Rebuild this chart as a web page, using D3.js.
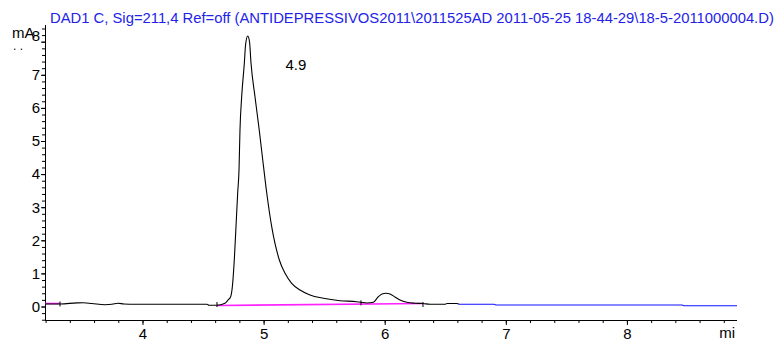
<!DOCTYPE html>
<html>
<head>
<meta charset="utf-8">
<script src="https://cdn.jsdelivr.net/npm/d3@7"></script>
<style>
  body { margin: 0; background: #fff; }
  text { font-family: "Liberation Sans", Arial, sans-serif; }
</style>
</head>
<body>
<div id="chart"></div>
<script>
// chromatogram trace (time in min, signal in mA)
var traceBlack = [
  [3.195, 0.076], [3.319, 0.076], [3.459, 0.110], [3.509, 0.115], [3.583, 0.091],
  [3.690, 0.054], [3.748, 0.066], [3.798, 0.100], [3.847, 0.076], [3.938, 0.066],
  [4.533, 0.066], [4.549, 0.039], [4.615, 0.039], [4.681, 0.097], [4.706, 0.196],
  [4.728, 0.296], [4.742, 0.598], [4.758, 1.405], [4.772, 2.411], [4.786, 3.429],
  [4.797, 4.124], [4.805, 5.332], [4.819, 6.338], [4.841, 7.356], [4.851, 7.900],
  [4.869, 8.172], [4.884, 7.991], [4.896, 7.356], [4.929, 6.338], [4.964, 5.332],
  [4.993, 4.426], [5.026, 3.429], [5.067, 2.411], [5.130, 1.405], [5.177, 1.003],
  [5.232, 0.701], [5.301, 0.498], [5.383, 0.347], [5.493, 0.248], [5.631, 0.175],
  [5.769, 0.145], [5.804, 0.127], [5.854, 0.106], [5.906, 0.127], [5.945, 0.287],
  [5.978, 0.378], [6.011, 0.399], [6.044, 0.378], [6.085, 0.287], [6.126, 0.196],
  [6.182, 0.127], [6.250, 0.100], [6.316, 0.091], [6.374, 0.066], [6.498, 0.066],
  [6.514, 0.091], [6.597, 0.091], [6.614, 0.066]
];
var traceBlue = [
  [6.614, 0.066], [6.903, 0.066], [6.919, 0.045], [8.455, 0.045], [8.472, 0.021], [8.909, 0.021]
];
// integration baselines and event marks
var baselines = [
  [[3.195, 0.091], [3.319, 0.091]],
  [[4.615, 0.030], [6.316, 0.091]]
];
var eventMarks = [[3.319, 0.076], [4.615, 0.060], [5.804, 0.110], [6.316, 0.060]];
var peakLabel = { text: "4.9", t: 5.267, v: 7.14 };

var xMajor = [4, 5, 6, 7, 8];
var xMinor = d3.range(3.2, 8.91, 0.2);
var yMajor = [0, 1, 2, 3, 4, 5, 6, 7, 8];
var yMinor = d3.range(-0.4, 8.41, 0.2);
var title = "DAD1 C, Sig=211,4 Ref=off (ANTIDEPRESSIVOS2011\\2011525AD 2011-05-25 18-44-29\\18-5-2011000004.D)";

var W = 777, H = 341;
var svg = d3.select("#chart").append("svg").attr("width", W).attr("height", H);

var x = d3.scaleLinear().domain([3.195, 8.909]).range([45, 737]);
var y = d3.scaleLinear().domain([0, 7]).range([306.5, 74.8]);
var yTop = 25, yBottom = 320;

// title
svg.append("text")
  .attr("x", 50).attr("y", 23)
  .attr("fill", "#2323e8")
  .style("font-size", "14.8px")
  .text(title);

// x axis
svg.append("g")
  .attr("transform", "translate(0," + yBottom + ")")
  .call(d3.axisBottom(x).tickValues(xMinor).tickSize(3).tickSizeOuter(0).tickFormat(""))
  .call(function(g) { g.select(".domain").remove(); });
var gx = svg.append("g")
  .attr("transform", "translate(0," + yBottom + ")")
  .call(d3.axisBottom(x).tickValues(xMajor).tickSize(5).tickSizeOuter(0).tickFormat(d3.format("d")));
gx.select(".domain").attr("d", "M" + x.range()[0] + ",0.5H" + x.range()[1]);
gx.selectAll("text").attr("dy", "0.71em").style("font-size", "15px").attr("fill", "#000");

// y axis
svg.append("g")
  .attr("transform", "translate(" + x.range()[0] + ",0)")
  .call(d3.axisLeft(y).tickValues(yMinor).tickSize(3).tickSizeOuter(0).tickFormat(""))
  .call(function(g) { g.select(".domain").remove(); });
var gy = svg.append("g")
  .attr("transform", "translate(" + x.range()[0] + ",0)")
  .call(d3.axisLeft(y).tickValues(yMajor).tickSize(4).tickSizeOuter(0).tickFormat(d3.format("d")));
gy.select(".domain").attr("d", "M0.5," + yTop + "V" + yBottom);
gy.selectAll("text").attr("x", -5).style("font-size", "15px").attr("fill", "#000");
gy.selectAll(".tick").filter(function(d) { return d === 8; }).select("text").attr("dy", "-0.1em");

// unit labels
svg.append("text").attr("x", 12).attr("y", 38).style("font-size", "15px").text("mA");
svg.append("text").attr("x", 13).attr("y", 50).style("font-size", "12px").text(". .");
svg.append("text").attr("x", 735).attr("y", 338).attr("text-anchor", "end").style("font-size", "15px").text("mi");

var line = d3.line()
  .x(function(d) { return x(d[0]); })
  .y(function(d) { return y(d[1]); });

// baselines
baselines.forEach(function(b) {
  svg.append("path").datum(b)
    .attr("d", d3.line().x(function(d) { return x(d[0]); }).y(function(d) { return y(d[1]); }))
    .attr("fill", "none").attr("stroke", "#ff22ff").attr("stroke-width", 1.6);
});

// signal
svg.append("path").datum(traceBlack)
  .attr("d", line.curve(d3.curveMonotoneX))
  .attr("fill", "none").attr("stroke", "#000").attr("stroke-width", 1.1);
svg.append("path").datum(traceBlue)
  .attr("d", d3.line().x(function(d) { return x(d[0]); }).y(function(d) { return y(d[1]); }))
  .attr("fill", "none").attr("stroke", "#1010ff").attr("stroke-width", 1.1);

// event marks
svg.selectAll(".mark").data(eventMarks).enter().append("line")
  .attr("class", "mark")
  .attr("x1", function(d) { return x(d[0]); }).attr("x2", function(d) { return x(d[0]); })
  .attr("y1", function(d) { return y(d[1]) - 2.5; }).attr("y2", function(d) { return y(d[1]) + 2.5; })
  .attr("stroke", "#000").attr("stroke-width", 1);

// peak label
svg.append("text")
  .attr("x", x(peakLabel.t)).attr("y", y(peakLabel.v))
  .attr("text-anchor", "middle")
  .style("font-size", "15px")
  .text(peakLabel.text);
</script>
</body>
</html>
